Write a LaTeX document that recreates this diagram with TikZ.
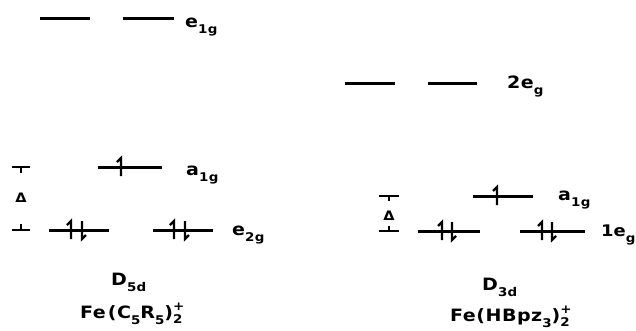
\documentclass[tikz,border=0pt]{standalone}
\usepackage{fontspec}
\setmainfont{DejaVu Sans}[FakeStretch=1.12,LetterSpace=3]
\newcommand\lsub[1]{\raisebox{-6pt}{\fontsize{12}{12}\selectfont #1}}
\newcommand\supsubx[2]{\rlap{\raisebox{8pt}{\fontsize{12}{12}\selectfont #1}}\raisebox{-5pt}{\fontsize{12}{12}\selectfont #2}}
\tikzset{
  level/.style={line width=3pt},
  spin/.style={line width=2.2pt},
  tickmark/.style={line width=1.5pt},
  lbl/.style={anchor=base west,inner sep=0pt,font=\bfseries\fontsize{17}{17}\selectfont},
  captxt/.style={anchor=base west,inner sep=0pt,font=\bfseries\fontsize{17}{17}\selectfont},
  delta/.style={inner sep=0pt,font=\bfseries\fontsize{13}{13}\selectfont},
  upspin/.pic={\draw[spin] (0,9) -- (0,-9) -- (-4,-5);},
  dnspin/.pic={\draw[spin] (0,-9) -- (0,9) -- (4,5);}
}
\begin{document}
\begin{tikzpicture}[x=1pt,y=-1pt]
\useasboundingbox (0,0) rectangle (636,330);
% ---------- left: D5d ----------
\draw[level] (40,18) coordinate (l1a) -- (90,18) coordinate (l1b);
\draw[level] (123,18) coordinate (l2a) -- (174,18) coordinate (l2b);
\node[lbl] (e1g) at (185,27) {e\lsub{1g}};
\draw[level] (98,167) coordinate (l3a) -- (162,167) coordinate (l3b);
\pic at (121,167) {upspin};
\node[lbl] (a1gL) at (186,175) {a\lsub{1g}};
\draw[level] (49,230) coordinate (l4a) -- (109,230) coordinate (l4b);
\pic at (71,230) {upspin};
\pic at (82,230) {dnspin};
\draw[level] (153,230) coordinate (l5a) -- (213,230) coordinate (l5b);
\pic at (174,230) {upspin};
\pic at (185,230) {dnspin};
\node[lbl] (e2g) at (232,235) {e\lsub{2g}};
% bracket
\draw[tickmark] (12,167) -- (30,167) (21,167) -- (21,173);
\draw[tickmark] (12,230) -- (30,230) (21,230) -- (21,224);
\node[delta] (dL) at (21,198) {Δ};
\node[captxt] (D5d) at (111,285) {D\lsub{5d}};
\node[captxt] (molL) at (80,318) {Fe\kern2pt(C\lsub{5}R\lsub{5})\supsubx{+}{2}};
% ---------- right: D3d ----------
\draw[level] (345,83) coordinate (r1a) -- (395,83) coordinate (r1b);
\draw[level] (428,83) coordinate (r2a) -- (477,83) coordinate (r2b);
\node[lbl] (e2gR) at (507,88) {2e\lsub{g}};
\draw[level] (473,196) coordinate (r3a) -- (533,196) coordinate (r3b);
\pic at (497,196) {upspin};
\node[lbl] (a1gR) at (558,200) {a\lsub{1g}};
\draw[level] (418,231) coordinate (r4a) -- (480,231) coordinate (r4b);
\pic at (442,231) {upspin};
\pic at (452,231) {dnspin};
\draw[level] (520,231) coordinate (r5a) -- (585,231) coordinate (r5b);
\pic at (542,231) {upspin};
\pic at (552,231) {dnspin};
\node[lbl,font=\bfseries\fontsize{16}{16}\selectfont\addfontfeature{LetterSpace=0}] (eg1) at (601,236) {1e\lsub{g}};
\draw[tickmark] (379,196) -- (399,196) (389,196) -- (389,201);
\draw[tickmark] (379,231) -- (399,231) (389,231) -- (389,226);
\node[delta] (dR) at (389,216) {Δ};
\node[captxt] (D3d) at (482,290) {D\lsub{3d}};
\node[captxt] (molR) at (450,321) {Fe(HBpz\lsub{3})\supsubx{+}{2}};
\end{tikzpicture}
\end{document}
